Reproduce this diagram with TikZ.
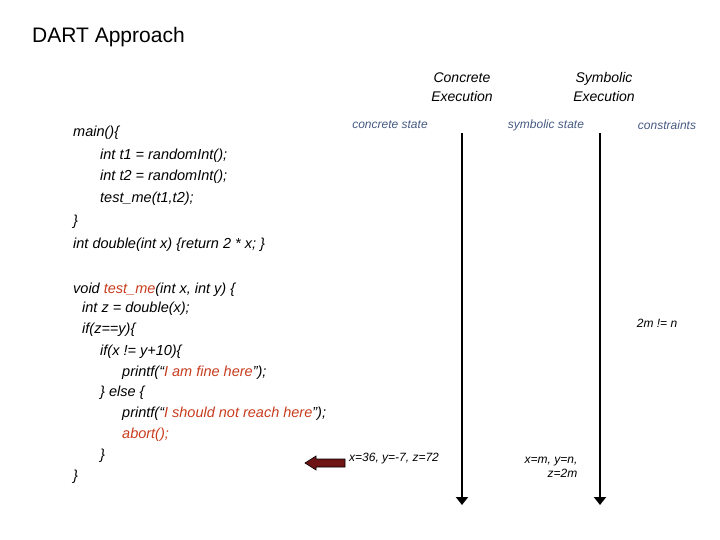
\documentclass[tikz,border=0pt]{standalone}
\usepackage{fontspec}
\setmainfont{Liberation Sans}
\usetikzlibrary{positioning,arrows.meta}
\definecolor{codered}{RGB}{200,60,30}
\definecolor{headblue}{RGB}{70,90,130}
\definecolor{arrowred}{RGB}{110,20,20}
\tikzset{
  code/.style={anchor=west,inner sep=0pt,font=\fontsize{14.5}{16}\selectfont\itshape},
  head/.style={align=center,inner sep=0pt,font=\fontsize{14}{19}\selectfont\itshape},
  colhead/.style={inner sep=0pt,text=headblue,font=\fontsize{12}{14}\selectfont\itshape},
  val/.style={inner sep=0pt,font=\fontsize{12}{14}\selectfont\itshape},
  timeline/.style={line width=2pt,-{Triangle[width=12pt,length=8pt]}}
}
\begin{document}
\begin{tikzpicture}[x=1pt,y=-1pt]
  \useasboundingbox (0,0) rectangle (720,540);
  \node[anchor=west,inner sep=0pt,font=\fontsize{21}{24}\selectfont] (title) at (32,37) {DART Approach};
  % column headers
  \node[head] (conc) at (462,87) {Concrete\\Execution};
  \node[head] (symb) at (604,87) {Symbolic\\Execution};
  \node[colhead] (cstate) at (390,125) {concrete state};
  \node[colhead] (sstate) at (546,125) {symbolic state};
  \node[colhead] (cons) at (667,125) {constraints};
  % time lines
  \coordinate (ctop) at (462,133);
  \coordinate (cbot) at (462,505);
  \coordinate (stop) at (600,133);
  \coordinate (sbot) at (600,505);
  \draw[timeline] (ctop) -- (cbot);
  \draw[timeline] (stop) -- (sbot);
  % program
  \node[code] (l1) at (73,133) {main()\{};
  \node[code] (l2) at (100,156) {int t1 = randomInt();};
  \node[code] (l3) at (100,177) {int t2 = randomInt();};
  \node[code] (l4) at (100,199) {test\_me(t1,t2);};
  \node[code] (l5) at (73,222) {\}};
  \node[code] (l6) at (73,245) {int double(int x) \{return 2 * x; \}};
  \node[code] (l7) at (73,290) {void \textcolor{codered}{test\_me}(int x, int y) \{};
  \node[code] (l8) at (82,309) {int z = double(x);};
  \node[code] (l9) at (82,330) {if(z==y)\{};
  \node[code] (l10) at (100,352) {if(x != y+10)\{};
  \node[code] (l11) at (122,373) {printf(“\textcolor{codered}{I am fine here}”);};
  \node[code] (l12) at (100,393) {\} else \{};
  \node[code] (l13) at (122,414) {printf(“\textcolor{codered}{I should not reach here}”);};
  \node[code] (l14) at (122,435) {\textcolor{codered}{abort();}};
  \node[code] (l15) at (100,456) {\}};
  \node[code] (l16) at (73,477) {\}};
  % program counter
  \coordinate (pc) at (325,463);
  \draw[fill=arrowred,line width=0.6pt] (345,459) -- (316,459) -- (316,456) -- (305,463)
    -- (316,470) -- (316,467) -- (345,467) -- cycle;
  % state
  \node[val,anchor=west] (cval) at (349,459) {x=36, y=-7, z=72};
  \node[val,align=right] (sval) at (551,467) {x=m, y=n,\\z=2m};
  \node[val] (pcon) at (657,323) {2m != n};
\end{tikzpicture}
\end{document}
